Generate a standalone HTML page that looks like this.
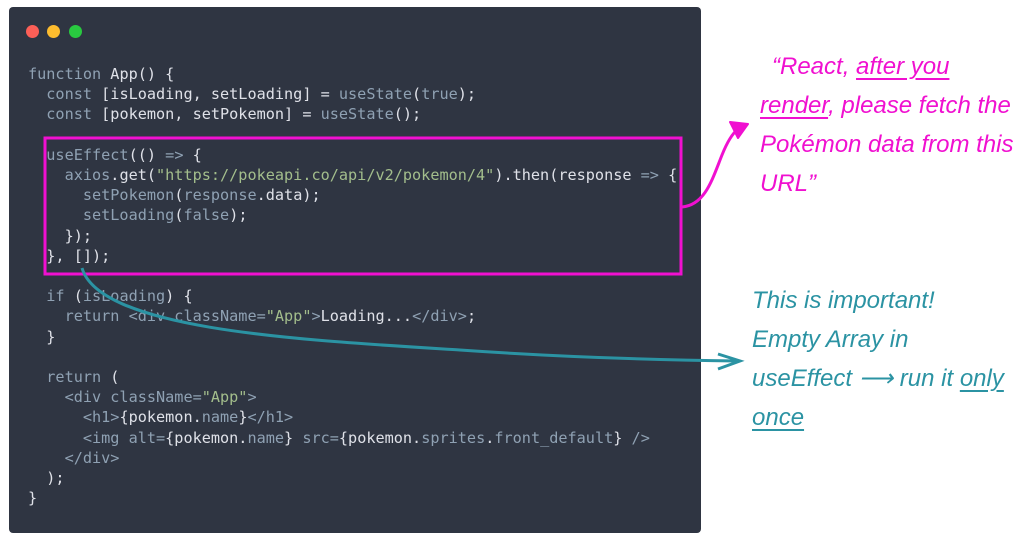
<!DOCTYPE html>
<html><head><meta charset="utf-8"><style>
html,body{margin:0;padding:0;background:#fff;width:1033px;height:541px;overflow:hidden;position:relative}
.panel{position:absolute;left:9px;top:7px;width:692px;height:526px;border-radius:4px;background:#2f3542}
.dot{position:absolute;top:25px;width:13px;height:13px;border-radius:50%}
pre{position:absolute;left:28px;top:64px;margin:0;font-family:"DejaVu Sans Mono","Liberation Mono",monospace;font-size:15.2px;line-height:20.2px;color:#8fa1b3}
.w{color:#dfe1e8}.s{color:#a3be8c}
.note{position:absolute;font-family:"Liberation Sans",sans-serif;font-style:italic;font-size:24px;line-height:39px;white-space:nowrap}
.u{text-decoration:underline;text-underline-offset:4px}
</style></head><body>
<div class="panel"></div>
<div class="dot" style="left:26px;background:#fc5f57"></div>
<div class="dot" style="left:47px;background:#fdbc2e"></div>
<div class="dot" style="left:69px;background:#29c940"></div>
<pre>function <span class="w">App() {</span>
  const <span class="w">[isLoading, setLoading] =</span> useState<span class="w">(</span>true<span class="w">);</span>
  const <span class="w">[pokemon, setPokemon] =</span> useState<span class="w">();</span>

  useEffect<span class="w">(() </span>=&gt;<span class="w"> {</span>
    axios<span class="w">.get(</span><span class="s">"https://pokeapi.co/api/v2/pokemon/4"</span><span class="w">).then(response </span>=&gt;<span class="w"> {</span>
      setPokemon<span class="w">(</span>response<span class="w">.data);</span>
      setLoading<span class="w">(</span>false<span class="w">);</span>
<span class="w">    });
  }, []);</span>

  if <span class="w">(</span>isLoading<span class="w">) {</span>
    return &lt;div className=<span class="s">"App"</span>&gt;<span class="w">Loading...</span>&lt;/div&gt;<span class="w">;</span>
<span class="w">  }</span>

  return <span class="w">(</span>
    &lt;div className=<span class="s">"App"</span>&gt;
      &lt;h1&gt;<span class="w">{pokemon.</span>name<span class="w">}</span>&lt;/h1&gt;
      &lt;img alt=<span class="w">{pokemon.</span>name<span class="w">}</span> src=<span class="w">{pokemon.</span>sprites<span class="w">.</span>front_default<span class="w">}</span> /&gt;
    &lt;/div&gt;
<span class="w">  );
}</span></pre>
<svg style="position:absolute;left:0;top:0" width="1033" height="541">
<rect x="45" y="138" width="636" height="136" fill="none" stroke="#f010d0" stroke-width="3"/>
<path d="M682 207 C705 205 712 180 722 155 C728 140 733 133 738 129" fill="none" stroke="#f010d0" stroke-width="3"/>
<path d="M730 122 L748 124 L738 138 Z" fill="#f010d0" stroke="#f010d0" stroke-width="2" stroke-linejoin="round"/>
<path d="M82 268 C100 330 300 340 460 350 C560 357 660 360 738 361" fill="none" stroke="#2b93a3" stroke-width="3"/>
<path d="M718 354 L740 361 L718 369" fill="none" stroke="#2b93a3" stroke-width="3"/>
</svg>
<div class="note" style="left:772px;top:47px;color:#f010d0">“React, <span class="u">after you</span></div>
<div class="note" style="left:760px;top:86px;color:#f010d0"><span class="u">render</span>, please fetch the</div>
<div class="note" style="left:760px;top:125px;color:#f010d0">Pokémon data from this</div>
<div class="note" style="left:760px;top:164px;color:#f010d0">URL”</div>
<div class="note" style="left:752px;top:281px;color:#2b93a3">This is important!</div>
<div class="note" style="left:752px;top:320px;color:#2b93a3">Empty Array in</div>
<div class="note" style="left:752px;top:359px;color:#2b93a3">useEffect ⟶ run it <span class="u">only</span></div>
<div class="note" style="left:752px;top:398px;color:#2b93a3"><span class="u">once</span></div>
</body></html>
